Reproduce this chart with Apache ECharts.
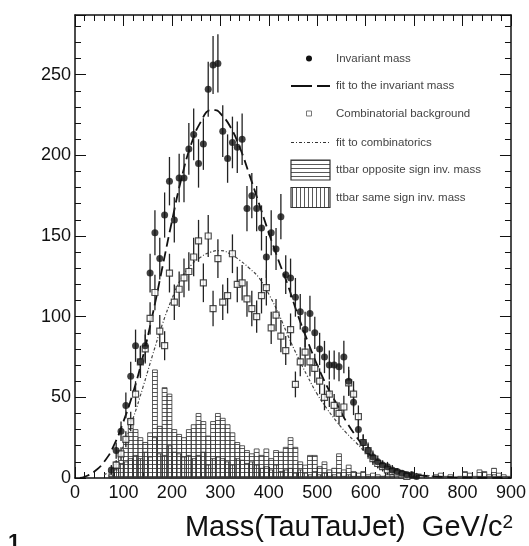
<!DOCTYPE html>
<html><head><meta charset="utf-8">
<script src="https://cdn.jsdelivr.net/npm/echarts@6/dist/echarts.min.js"></script>
<style>html,body{margin:0;padding:0;background:#fff}#c{width:529px;height:546px}</style>
</head><body><div id="c"></div>
<script>
// ---------------- data ----------------
const binStart = 60, binWidth = 10;
// ttbar opposite sign inv. mass (horizontal hatch), bins from 60 to 900 GeV
const oppositeSign = [0,3,10,14,25,37,30,25,22,28, 67,32,56,52,30,27,25,30,33,40, 35,26,35,40,37,33,28,22,20,17, 15,18,14,18,12,17,16,19,25,19, 10,8,14,14,7,10,5,6,15,5, 8,4,3,4,2,3,2,1,2,1, 0,1,2,1,1,0,1,0,2,3, 1,2,0,1,4,3,1,5,4,2, 6,3,2,1];
// ttbar same sign inv. mass (vertical hatch)
const sameSign = [0,2,5,9,10,12,14,12,16,13, 25,15,14,20,16,15,13,14,12,14, 16,8,12,13,12,10,8,12,11,9, 10,8,6,7,5,8,4,5,6,3, 5,3,2,4,2,3,1,2,3,1, 2,1,1,0,1,0,0,1,0,0, 0,0,1,0,0,0,0,0,0,1, 0,0,0,0,1,0,0,1,0,0, 2,1,0,0];
// invariant mass (filled points)
const massX = [75,85,95,105,115,125,135,145,155,165, 175,185,195,205,215,225,235,245,255,265, 275,285,295,305,315,325,335,345,355,365, 375,385,395,405,415,425,435,445,455,465, 475,485,495,505,515,525,535,545,555,565, 575,585,595,605,615,625,635,645,655,665, 675,685,695,705];
const massY = [5,17,29,45,63,82,72,82,127,152, 136,163,184,160,186,186,204,213,195,207, 241,256,257,215,198,208,205,210,167,175, 167,155,137,152,142,162,126,124,112,103, 92,102,90,80,75,70,70,69,75,60, 47,30,22,17,13,10,8,7,5,4, 3,2,2,1];
const massErr = [3,5,6,8,9,10,10,10,12,14, 13,14,15,14,15,15,16,16,15,16, 17,18,18,16,15,16,16,16,14,14, 14,14,13,14,13,14,12,12,12,11, 11,11,10,10,10,9,9,9,10,9, 8,6,5,5,4,4,3,3,3,2, 2,2,2,1];
// combinatorial background (open squares)
const combX = [85,95,105,115,125,135,145,155,165,175, 185,195,205,215,225,235,245,255,265,275, 285,295,305,315,325,335,345,355,365,375, 385,395,405,415,425,435,445,455,465,475, 485,495,505,515,525,535,545,555,565,575, 585,595,605,615,625,635,645,655,665,675, 685];
const combY = [8,15,24,35,52,72,80,99,115,91, 82,127,109,117,124,128,137,147,121,150, 105,136,109,113,139,120,121,111,105,100, 113,118,93,101,88,79,92,58,72,78, 72,68,60,50,52,45,40,44,59,52, 38,22,17,12,9,7,5,4,3,2, 1];
const combErr = [3,4,5,6,8,9,9,10,11,10, 9,12,11,11,12,12,12,13,12,13, 11,12,11,11,12,11,11,11,11,10, 11,11,10,10,10,9,10,8,9,9, 9,9,8,8,8,7,7,7,8,8, 7,5,4,4,3,3,3,2,2,2, 1];
// fit to the invariant mass (dashed)
const fitMassX = [10,20,40,60,80,100,120,140,160,180, 200,220,240,260,280,290,300,320,340,360, 380,400,420,440,460,480,500,520,540,560, 580,600,620,640,660,680,700,740,780,820, 860,900];
const fitMassY = [0,0.7,4,10,20,35,53,75,101,130, 159,186,207,221,228,228,226,218,205,188, 170,152,135,119,101,85,70,57,46,35, 26,18,11,7,4.5,3,2,1,0.4,0.2, 0.1,0];
// fit to combinatorics (dash-dot)
const fitCombX = [60,80,100,120,140,160,180,200,220,240, 260,280,300,320,340,360,380,400,420,440, 460,480,500,520,540,560,580,600,620,640, 660,680,700,720,740];
const fitCombY = [2,7,20,37,56,76,95,111,124,132, 137,140,141,139,135,130,124,114,102,88, 75,63,52,43,35,28,22,16,12,8, 6,4,3,2,1];
// axes / text
const xMin = 0, xMax = 900, xStep = 100;
const yMin = 0, yMax = 287, yStep = 50;
const xTitle = 'Mass(TauTauJet)  GeV/c';
const xTitleSup = '2';
const legendLabels = ['Invariant mass','fit to the invariant mass','Combinatorial background','fit to combinatorics','ttbar opposite sign inv. mass','ttbar same sign inv. mass'];
const cornerMark = '1';

// ---------------- rendering ----------------
function hatchCanvas(horizontal){
  const c = document.createElement('canvas'); c.width = 4; c.height = 4;
  const g = c.getContext('2d');
  g.fillStyle = 'rgba(60,60,60,0.85)';
  if (horizontal) g.fillRect(0,0,4,1); else g.fillRect(0,0,1,4);
  return c;
}
const hPat = {image: hatchCanvas(true), repeat: 'repeat'};
const vPat = {image: hatchCanvas(false), repeat: 'repeat'};

function histSeries(vals, pat){
  const data = vals.map((v,i)=>[binStart+i*binWidth, binStart+(i+1)*binWidth, v]);
  return {type:'custom', data, encode:{x:[0,1], y:2}, silent:true, z:1,
    renderItem:(params, api)=>{
      const x0=api.value(0), x1=api.value(1), v=api.value(2);
      if (v<=0) return null;
      const p0=api.coord([x0,v]), p1=api.coord([x1,0]);
      return {type:'rect', shape:{x:p0[0], y:p0[1], width:p1[0]-p0[0], height:p1[1]-p0[1]},
        style:{fill:pat, stroke:'#333', lineWidth:0.8}};
    }};
}
function errSeries(xs, ys, es){
  return {type:'custom', data: xs.map((x,i)=>[x, ys[i], es[i]]), encode:{x:0, y:1}, silent:true, z:3,
    renderItem:(params, api)=>{
      const x=api.value(0), y=api.value(1), e=api.value(2);
      const a=api.coord([x, Math.max(0,y-e)]), b=api.coord([x, y+e]);
      return {type:'line', shape:{x1:a[0],y1:a[1],x2:b[0],y2:b[1]}, style:{stroke:'#222', lineWidth:1.3}};
    }};
}
const pair = (xs, ys) => xs.map((x,i)=>[x, ys[i]]);

const font = 'Liberation Sans, Arial, Helvetica, sans-serif';
const tickCommon = {inside:true, length:11, lineStyle:{color:'#111', width:1}};
const minorCommon = {show:true, splitNumber:5, length:6, lineStyle:{color:'#111', width:1}};

const chart = echarts.init(document.getElementById('c'), null, {renderer:'canvas'});

// legend graphics
const L = {mx:309, lx0:291, lx1:330, tx:336, rows:[58.5,86,113.5,142.5,170,197.5]};
const legendGraphics = [];
legendGraphics.push({type:'circle', shape:{cx:L.mx, cy:L.rows[0], r:3}, style:{fill:'#111'}});
legendGraphics.push({type:'line', shape:{x1:L.lx0, y1:L.rows[1], x2:L.lx1, y2:L.rows[1]}, style:{stroke:'#111', lineWidth:2, lineDash:[21,5]}});
legendGraphics.push({type:'rect', shape:{x:L.mx-2.5, y:L.rows[2]-2.5, width:5, height:5}, style:{fill:'#fff', stroke:'#777', lineWidth:1}});
legendGraphics.push({type:'line', shape:{x1:L.lx0, y1:L.rows[3], x2:L.lx1, y2:L.rows[3]}, style:{stroke:'#333', lineWidth:1.2, lineDash:[3,2,1,2]}});
legendGraphics.push({type:'rect', shape:{x:L.lx0, y:L.rows[4]-10, width:L.lx1-L.lx0, height:20}, style:{fill:hPat, stroke:'#333', lineWidth:1.2}});
legendGraphics.push({type:'rect', shape:{x:L.lx0, y:L.rows[5]-10, width:L.lx1-L.lx0, height:20}, style:{fill:vPat, stroke:'#333', lineWidth:1.2}});
legendLabels.forEach((t,i)=>{
  legendGraphics.push({type:'text', style:{x:L.tx, y:L.rows[i], text:t, font:'11.5px '+font, fill:'#444', textVerticalAlign:'middle'}});
});

const option = {
  animation:false,
  backgroundColor:'#fff',
  grid:{left:75, right:18, top:15, bottom:68},
  xAxis:[
    {type:'value', min:xMin, max:xMax, interval:xStep, position:'bottom',
     axisLine:{show:true, onZero:false, lineStyle:{color:'#111', width:1.5}},
     axisTick:tickCommon, minorTick:minorCommon, splitLine:{show:false},
     axisLabel:{fontSize:18, color:'#111', fontFamily:font, margin:6}},
    {type:'value', min:xMin, max:xMax, interval:xStep, position:'top',
     axisLine:{show:true, onZero:false, lineStyle:{color:'#111', width:1.5}},
     axisTick:tickCommon, minorTick:minorCommon, splitLine:{show:false},
     axisLabel:{show:false}}
  ],
  yAxis:[
    {type:'value', min:yMin, max:yMax, interval:yStep, position:'left',
     axisLine:{show:true, onZero:false, lineStyle:{color:'#111', width:1.5}},
     axisTick:tickCommon, minorTick:minorCommon, splitLine:{show:false},
     axisLabel:{fontSize:18, color:'#111', fontFamily:font, margin:4,
       formatter:v=> (v % yStep === 0 ? String(v) : '')}},
    {type:'value', min:yMin, max:yMax, interval:yStep, position:'right',
     axisLine:{show:true, onZero:false, lineStyle:{color:'#111', width:1.5}},
     axisTick:tickCommon, minorTick:minorCommon, splitLine:{show:false},
     axisLabel:{show:false}}
  ],
  series:[
    histSeries(oppositeSign, hPat),
    histSeries(sameSign, vPat),
    {type:'line', data:pair(fitCombX, fitCombY), smooth:true, showSymbol:false, silent:true, z:2,
     lineStyle:{color:'#444', width:1.2, type:[3,2,1,2]}},
    {type:'line', data:pair(fitMassX, fitMassY), smooth:true, showSymbol:false, silent:true, z:2,
     lineStyle:{color:'#111', width:1.8, type:[10,5]}},
    errSeries(combX, combY, combErr),
    errSeries(massX, massY, massErr),
    {type:'scatter', data:pair(combX, combY), symbol:'rect', symbolSize:6, silent:true, z:4,
     itemStyle:{color:'#fff', borderColor:'#222', borderWidth:1.2}},
    {type:'scatter', data:pair(massX, massY), symbol:'circle', symbolSize:7, silent:true, z:5,
     itemStyle:{color:'#111'}}
  ],
  graphic:[
    ...legendGraphics,
    {type:'text', right:16, top:513, style:{text:xTitle+'{s|'+xTitleSup+'}', font:'29px '+font, fill:'#111',
      rich:{s:{fontSize:19, fontFamily:font, verticalAlign:'top', fill:'#111'}}}},
    {type:'text', left:8, top:532, style:{text:cornerMark, font:'bold 22px '+font, fill:'#111'}}
  ]
};
chart.setOption(option);
</script></body></html>
